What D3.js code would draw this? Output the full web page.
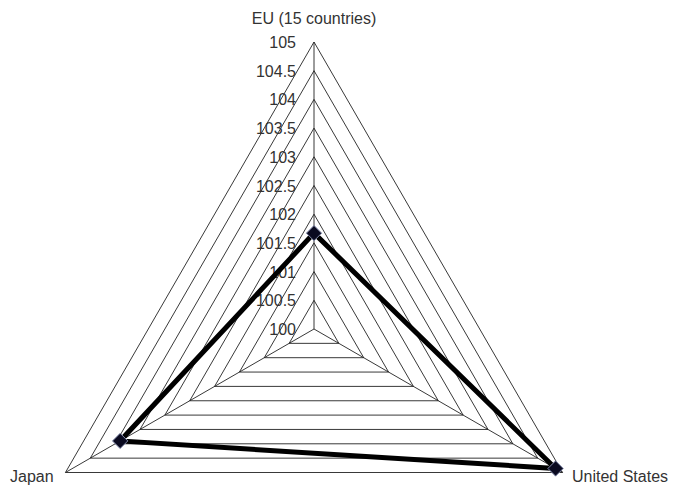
<!DOCTYPE html>
<html lang="en">
<head>
    <meta charset="UTF-8">
    <title>Radar chart</title>
    <script src="https://cdnjs.cloudflare.com/ajax/libs/d3/7.8.5/d3.min.js"></script>
    <style>
        body {
            margin: 0;
            background-color: #fff;
        }
        text {
            font-family: "Liberation Sans", Arial, sans-serif;
            font-size: 16px;
            fill: #333;
        }
    </style>
</head>
<body>
    <div id="chart"></div>
    <script>
        // Chart data
        const categories = ["EU (15 countries)", "United States", "Japan"];
        const values = [101.67, 104.86, 103.9];
        const tickValues = [100, 100.5, 101, 101.5, 102, 102.5, 103, 103.5, 104, 104.5, 105];

        const width = 673;
        const height = 486;
        const cx = 314, cy = 329, radius = 287;

        const svg = d3.select("#chart")
            .append("svg")
            .attr("width", width)
            .attr("height", height);

        const r = d3.scaleLinear().domain([100, 105]).range([0, radius]);
        const angle = d3.scaleBand().domain(categories).range([0, 2 * Math.PI]);

        function point(cat, v) {
            const a = angle(cat);
            return [cx + r(v) * Math.sin(a), cy - r(v) * Math.cos(a)];
        }

        const g = svg.append("g");

        // grid rings
        g.selectAll(".ring")
            .data(tickValues.slice(1))
            .enter()
            .append("polygon")
            .attr("points", v => categories.map(c => point(c, v).join(",")).join(" "))
            .attr("fill", "none")
            .attr("stroke", "#222")
            .attr("stroke-width", 0.9);

        // spokes
        g.selectAll(".spoke")
            .data(categories)
            .enter()
            .append("line")
            .attr("x1", cx).attr("y1", cy)
            .attr("x2", c => point(c, 105)[0])
            .attr("y2", c => point(c, 105)[1])
            .attr("stroke", "#222")
            .attr("stroke-width", 0.9);

        // tick labels along the first axis
        g.selectAll(".tick")
            .data(tickValues)
            .enter()
            .append("text")
            .attr("x", cx - 18)
            .attr("y", v => cy - r(v) + 6)
            .attr("text-anchor", "end")
            .text(v => v);

        // category labels
        const labelPos = [
            { x: cx, y: 24, anchor: "middle" },
            { x: 572, y: 482, anchor: "start" },
            { x: 10, y: 482, anchor: "start" }
        ];
        g.selectAll(".cat")
            .data(categories)
            .enter()
            .append("text")
            .attr("x", (d, i) => labelPos[i].x)
            .attr("y", (d, i) => labelPos[i].y)
            .attr("text-anchor", (d, i) => labelPos[i].anchor)
            .text(d => d);

        // data line
        const pts = categories.map((c, i) => point(c, values[i]));
        g.append("polygon")
            .attr("points", pts.map(p => p.join(",")).join(" "))
            .attr("fill", "none")
            .attr("stroke", "#000")
            .attr("stroke-width", 5)
            .attr("stroke-linejoin", "miter");

        // markers
        g.selectAll(".marker")
            .data(pts)
            .enter()
            .append("path")
            .attr("d", d3.symbol().type(d3.symbolDiamond2).size(150))
            .attr("transform", d => `translate(${d[0]},${d[1]})`)
            .attr("fill", "#0a0a20")
            .attr("stroke", "#8890b0")
            .attr("stroke-width", 1);
    </script>
</body>
</html>
